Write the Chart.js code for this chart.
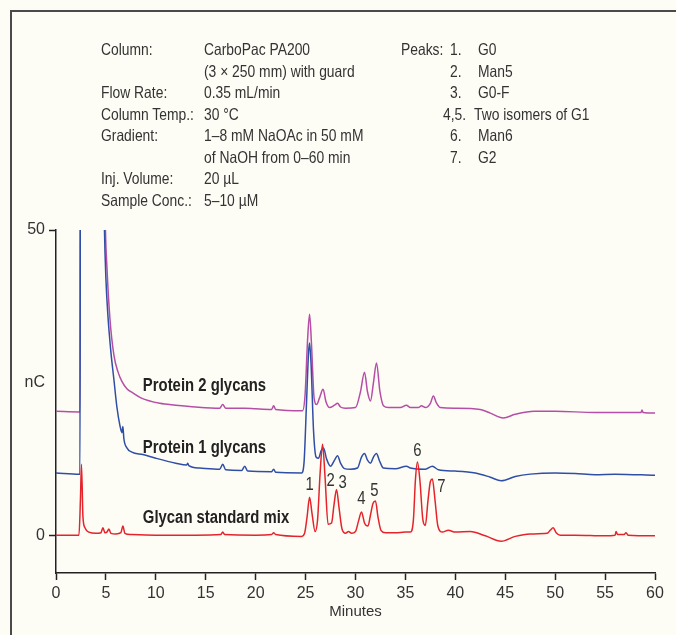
<!DOCTYPE html>
<html>
<head>
<meta charset="utf-8">
<script src="https://cdn.jsdelivr.net/npm/chart.js@4/dist/chart.umd.min.js"></script>
<style>
  html, body { margin: 0; padding: 0; background: #fefdf5; }
  #wrap { position: relative; width: 676px; height: 635px; overflow: hidden; }
  #frame { position: absolute; left: 10px; top: 10px; width: 700px; height: 700px;
           border-top: 2px solid #4a4a4a; border-left: 2px solid #4a4a4a; }
  canvas { position: absolute; left: 0; top: 0; }
  .info { position: absolute; font-family: "Liberation Sans", Arial, sans-serif;
          font-size: 16.5px; color: #333; white-space: nowrap; line-height: 21.5px; }
  .info div { position: relative; height: 21.5px; }
  .info span { position: absolute; top: 0; transform: scaleX(0.84); transform-origin: 0 0; }
</style>
</head>
<body>
<div id="wrap">
  <div id="frame"></div>
  <canvas id="c" width="676" height="635"></canvas>
  <div class="info" style="left:101px; top:39px;">
    <div><span style="left:0">Column:</span><span style="left:103px">CarboPac PA200</span></div>
    <div><span style="left:103px">(3 × 250 mm) with guard</span></div>
    <div><span style="left:0">Flow Rate:</span><span style="left:103px">0.35 mL/min</span></div>
    <div><span style="left:0">Column Temp.:</span><span style="left:103px">30 °C</span></div>
    <div><span style="left:0">Gradient:</span><span style="left:103px">1–8 mM NaOAc in 50 mM</span></div>
    <div><span style="left:103px">of NaOH from 0–60 min</span></div>
    <div><span style="left:0">Inj. Volume:</span><span style="left:103px">20 µL</span></div>
    <div><span style="left:0">Sample Conc.:</span><span style="left:103px">5–10 µM</span></div>
  </div>
  <div class="info" style="left:401px; top:39px;">
    <div><span style="left:0">Peaks:</span><span style="left:49px">1.</span><span style="left:77px">G0</span></div>
    <div><span style="left:49px">2.</span><span style="left:77px">Man5</span></div>
    <div><span style="left:49px">3.</span><span style="left:77px">G0-F</span></div>
    <div><span style="left:42px">4,5.</span><span style="left:73px">Two isomers of G1</span></div>
    <div><span style="left:49px">6.</span><span style="left:77px">Man6</span></div>
    <div><span style="left:49px">7.</span><span style="left:77px">G2</span></div>
  </div>
</div>
<script>
// 軸
const X_TICKS = [0, 5, 10, 15, 20, 25, 30, 35, 40, 45, 50, 55, 60];
const Y_TICKS = [0, 25, 50];
const Y_TICK_LABELS = ["0", "nC", "50"];

// Glycan standard mix
const redTime = [0, 2.3, 2.45, 2.55, 2.7, 2.9, 3.3, 4.0, 4.5, 4.7, 4.9, 5.1, 5.3, 5.5, 6.0, 6.5, 6.7, 6.9, 7.5, 10, 14,
  16.5, 16.7, 16.9, 20, 21.6, 21.8, 22.0, 24.6, 24.9, 25.15, 25.4, 25.65, 25.95, 26.2, 26.45, 26.7, 26.95, 27.25,
  27.6, 27.85, 28.1, 28.35, 28.65, 29.0, 29.3, 29.6, 30.0, 30.3, 30.6, 30.9, 31.25, 31.5, 31.75, 32.0, 32.25, 32.55,
  33, 34, 35, 35.5, 35.8, 36.0, 36.2, 36.45, 36.75, 37.0, 37.25, 37.5, 37.7, 37.95, 38.25, 38.7, 39.3, 40, 41.5,
  43, 44.6, 46, 47.5, 49.2, 49.5, 49.8, 50.1, 50.5, 52, 55, 56, 56.1, 56.25, 56.9, 57.1, 57.3, 60];
const redValue = [0, 0, 6, 11.6, 3, 1.2, 0.5, 0.3, 0.4, 1.2, 0.4, 0.5, 1.0, 0.3, 0.2, 0.4, 1.5, 0.3, 0.1, 0, 0,
  0.1, 0.5, 0.1, 0, 0.1, 0.4, 0.1, -0.2, 0.3, 3.0, 6.2, 3.5, 0.6, 2.5, 10, 14.9, 9.5, 1.8,
  2.0, 5.0, 7.5, 4.5, 1.0, 0.3, 0.6, 0.3, 0.6, 2.3, 3.8, 2.0, 1.5, 3.3, 5.2, 5.6, 3.0, 0.8,
  0.4, 0.4, 0.5, 0.5, 2.5, 9, 12.0, 9, 2.5, 1.6, 5.5, 8.8, 9.2, 6, 1.5, 0.5, 0.8, 0.5, 0.6,
  -0.1, -1.0, -0.2, 0.2, 0.3, 0.8, 1.2, 0.4, 0.0, 0, -0.1, 0, 0.6, 0.1, 0.1, 0.4, 0.0, -0.1];

// Protein 1 glycans
const blueTime = [0, 2.35, 2.4, 2.45, 4.7, 4.85, 5.0, 5.2, 5.5, 5.8, 6.1, 6.4, 6.6, 6.7, 6.8, 7.1, 7.6, 8.7, 10, 12,
  13.1, 13.2, 13.3, 14.4, 16.4, 16.7, 17.0, 18.6, 18.9, 19.2, 21.6, 21.8, 22.0, 24.6, 24.85, 25.1, 25.3, 25.4,
  25.55, 25.8, 26.05, 26.3, 26.55, 26.8, 27.1, 27.5, 27.9, 28.2, 28.5, 28.9, 29.5, 30.2, 30.6, 30.9, 31.2, 31.5,
  31.8, 32.1, 32.4, 32.8, 34, 35.1, 35.5, 37.0, 37.7, 38.3, 40, 42, 43.5, 44.6, 46, 47.5, 50, 52, 54, 56, 60];
const blueValue = [10.2, 10.0, 10.0, 70, 70, 50.5, 42, 36, 30, 25.5, 21, 18, 16.8, 17.8, 15.8, 14.3, 13.6, 13.2, 12.6, 11.8,
  11.5, 11.8, 11.4, 11.0, 10.8, 11.6, 10.7, 10.6, 11.3, 10.5, 10.4, 10.8, 10.3, 10.2, 12, 22, 30, 31.5,
  28, 17, 12.8, 12.6, 13.8, 14.3, 12.5, 11.3, 12.3, 13.0, 11.8, 10.9, 10.8, 11.0, 12.8, 13.4, 12.3, 11.8,
  12.8, 13.4, 12.2, 11.0, 10.9, 11.3, 11.0, 10.8, 11.3, 10.7, 10.5, 10.2, 9.5, 8.9, 9.6, 10.0, 10.2, 10.1, 9.9, 10.0, 9.8];

// Protein 2 glycans
const magentaTime = [0, 2.35, 2.4, 2.45, 4.8, 4.95, 5.1, 5.4, 5.8, 6.2, 6.6, 7.1, 7.7, 8.5, 10.4, 12, 14, 16.4, 16.7, 17.0,
  18.9, 20, 21.6, 21.8, 22.0, 24.7, 24.95, 25.2, 25.4, 25.6, 25.85, 26.1, 26.4, 26.75, 27.05, 27.4, 27.9, 28.2,
  28.5, 29, 30, 30.5, 30.9, 31.2, 31.5, 31.8, 32.1, 32.45, 32.8, 33.3, 34.5, 35.1, 35.5, 36.3, 36.6, 37.0, 37.5,
  37.8, 38.1, 38.5, 40, 42.5, 43.5, 44.8, 46, 47.9, 50, 54, 56, 58.6, 58.7, 58.8, 60];
const magentaValue = [20.3, 20.2, 20.2, 70, 70, 50.5, 44, 35.5, 29.5, 26.8, 25.2, 24.0, 23.3, 22.5, 21.6, 21.3, 21.0, 20.8, 21.4, 20.8,
  20.8, 20.7, 20.6, 21.2, 20.6, 20.4, 23, 32, 36.2, 31, 22.5, 21.4, 22.5, 23.9, 21.8, 20.9, 21.3, 21.6,
  21.0, 20.8, 20.9, 23.5, 26.7, 23.5, 22.0, 25, 28.2, 23.5, 21.2, 20.9, 20.9, 21.3, 20.9, 20.9, 21.2, 20.9, 21.6,
  22.8, 21.7, 20.9, 20.8, 20.6, 20.0, 19.2, 19.8, 20.3, 20.3, 20.1, 20.1, 20.1, 20.5, 20.1, 20.0];

const seriesNames = ["Glycan standard mix", "Protein 1 glycans", "Protein 2 glycans"];
const peakNames = ["1", "2", "3", "4", "5", "6", "7"];
const peakTimes = [25.4, 26.7, 28.1, 30.6, 32.0, 36.2, 37.7];

const pts = (xs, ys) => xs.map((x, i) => ({ x, y: ys[i] }));
const FONT = '"Liberation Sans", Arial, sans-serif';

// 細い字（コンデンス体の代わり）
function narrowText(ctx, s, x, y, sx) {
  ctx.save();
  ctx.translate(x, y);
  ctx.scale(sx, 1);
  ctx.fillText(s, 0, 0);
  ctx.restore();
}

// 系列名とピーク番号
const annotate = {
  id: "annotate",
  afterDatasetsDraw(chart) {
    const { ctx, scales: { x, y } } = chart;
    ctx.save();
    ctx.font = "bold 17.5px " + FONT;
    ctx.fillStyle = "#222";
    ctx.textBaseline = "middle";
    const nameAt = [2.8, 14.3, 24.4];
    seriesNames.forEach((s, i) => narrowText(ctx, s, x.getPixelForValue(8.7), y.getPixelForValue(nameAt[i]), 0.85));

    ctx.font = "17.5px " + FONT;
    ctx.fillStyle = "#333";
    ctx.textAlign = "center";
    const off = [[0, -12], [8, 37], [6, -6], [0, -13], [-1, -10], [0, -11], [9, 8]];
    peakNames.forEach((p, i) => {
      const k = redTime.indexOf(peakTimes[i]);
      const px = x.getPixelForValue(peakTimes[i]) + off[i][0];
      const py = y.getPixelForValue(redValue[k]) + off[i][1];
      narrowText(ctx, p, px, py, 0.85);
    });
    ctx.restore();
  }
};

const line = (data, color) => ({
  data, borderColor: color, borderWidth: 1.5, pointRadius: 0,
  cubicInterpolationMode: "monotone", fill: false
});

new Chart(document.getElementById("c"), {
  type: "line",
  data: {
    datasets: [
      line(pts(redTime, redValue), "#e5232b"),
      line(pts(blueTime, blueValue), "#2f4ea6"),
      line(pts(magentaTime, magentaValue), "#b54ea6")
    ]
  },
  options: {
    responsive: false,
    animation: false,
    events: [],
    layout: { padding: { left: 0, right: 21, top: 230, bottom: 14 } },
    plugins: { legend: { display: false }, tooltip: { enabled: false } },
    scales: {
      x: {
        type: "linear", min: 0, max: 60,
        afterFit: (s) => { s.height = 48; },
        afterBuildTicks: (s) => { s.ticks = X_TICKS.map(v => ({ value: v })); },
        grid: { drawOnChartArea: false, tickLength: 7, tickColor: "#222", tickWidth: 1.5 },
        border: { color: "#222", width: 1.5 },
        ticks: { maxRotation: 0, padding: 4, color: "#333", font: { family: FONT, size: 16 } },
        title: { display: true, text: "Minutes", color: "#333", padding: 0, font: { family: FONT, size: 15 } }
      },
      y: {
        min: -6.2, max: 50,
        afterFit: (s) => { s.width = 56; },
        afterBuildTicks: (s) => { s.ticks = Y_TICKS.map(v => ({ value: v })); },
        grid: {
          drawOnChartArea: false, tickLength: 7, tickWidth: 1.5,
          tickColor: (c) => (c.tick && c.tick.value === 25 ? "rgba(0,0,0,0)" : "#222")
        },
        border: { color: "#222", width: 1.5 },
        ticks: {
          padding: 4, color: "#333", font: { family: FONT, size: 16 },
          callback: (v) => Y_TICK_LABELS[Y_TICKS.indexOf(v)]
        }
      }
    }
  },
  plugins: [annotate]
});
</script>
</body>
</html>
